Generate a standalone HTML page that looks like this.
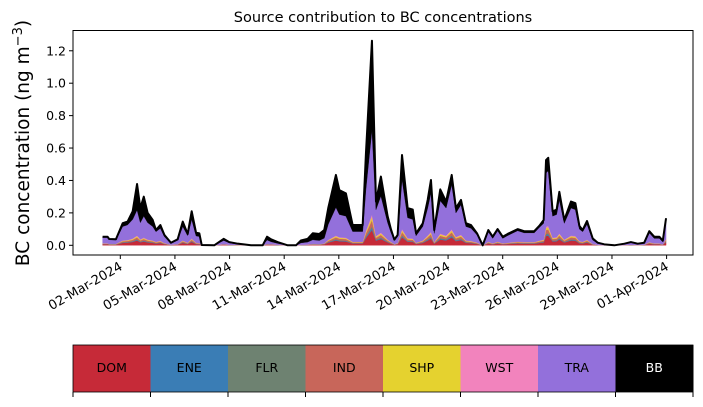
<!DOCTYPE html>
<html><head><meta charset="utf-8"><style>
body{margin:0;background:#fff;font-family:"Liberation Sans","DejaVu Sans",sans-serif;}
</style></head><body>
<svg id="chart" width="703" height="402" xmlns="http://www.w3.org/2000/svg" font-family="DejaVu Sans, Liberation Sans, sans-serif">
<text x="383" y="22" text-anchor="middle" font-size="14.5">Source contribution to BC concentrations</text>
<text transform="translate(29,143) rotate(-90)" text-anchor="middle" font-size="18.5">BC concentration (ng m<tspan baseline-shift="super" font-size="13">−3</tspan>)</text>
<g id="plot"></g>
<g id="cbar"></g>
</svg>
<script>
const days=[0.03,0.30,0.39,0.76,1.13,1.40,1.68,1.92,2.10,2.29,2.50,2.78,2.96,3.20,3.42,3.78,4.15,4.43,4.70,4.92,5.16,5.34,5.47,6.16,6.68,6.98,7.45,8.18,8.82,9.06,9.28,9.64,10.19,10.65,10.92,11.29,11.57,11.93,12.20,12.42,12.84,13.03,13.39,13.76,14.31,14.49,14.82,15.04,15.31,15.68,15.86,16.05,16.23,16.47,16.78,17.06,17.24,17.61,17.88,18.06,18.24,18.57,18.89,19.20,19.43,19.71,19.98,20.26,20.59,20.90,21.21,21.45,21.72,22.00,22.27,22.82,23.18,23.73,24.01,24.25,24.38,24.50,24.74,24.96,25.11,25.38,25.75,25.99,26.21,26.39,26.63,26.94,27.22,27.58,28.13,28.68,29.04,29.41,29.77,30.05,30.32,30.60,30.79,30.97];
const total=[0.053,0.053,0.039,0.037,0.136,0.146,0.21,0.378,0.23,0.30,0.20,0.156,0.094,0.125,0.064,0.016,0.037,0.146,0.07,0.21,0.078,0.074,0.002,0.0,0.04,0.02,0.01,0.0,0.0,0.053,0.037,0.02,0.0,0.0,0.03,0.04,0.074,0.07,0.094,0.23,0.434,0.34,0.32,0.125,0.125,0.568,1.262,0.27,0.424,0.18,0.10,0.035,0.064,0.557,0.23,0.22,0.074,0.136,0.28,0.403,0.094,0.345,0.27,0.434,0.23,0.28,0.136,0.125,0.074,0.0,0.094,0.053,0.10,0.053,0.07,0.10,0.087,0.087,0.12,0.156,0.526,0.54,0.21,0.22,0.33,0.156,0.27,0.26,0.12,0.094,0.15,0.043,0.016,0.006,0.0,0.01,0.02,0.01,0.016,0.087,0.053,0.053,0.028,0.167];
const bb=[0.005,0.005,0.004,0.004,0.02,0.02,0.05,0.16,0.09,0.12,0.06,0.04,0.01,0.02,0.01,0.003,0.005,0.03,0.01,0.05,0.02,0.02,0.001,0,0.01,0.005,0.003,0,0,0.02,0.015,0.008,0,0,0.015,0.02,0.04,0.04,0.05,0.10,0.20,0.15,0.14,0.04,0.04,0.22,0.55,0.05,0.12,0.04,0.02,0.005,0.01,0.15,0.06,0.06,0.015,0.02,0.05,0.08,0.02,0.07,0.04,0.06,0.03,0.03,0.02,0.02,0.01,0,0.01,0.01,0.01,0.01,0.01,0.01,0.01,0.01,0.01,0.02,0.08,0.08,0.03,0.03,0.05,0.02,0.04,0.04,0.02,0.01,0.02,0.01,0.004,0.002,0,0.002,0.003,0.002,0.003,0.01,0.01,0.01,0.005,0.02];
const local=[0.012,0.012,0.009,0.009,0.03,0.033,0.042,0.06,0.037,0.047,0.036,0.03,0.022,0.028,0.014,0.004,0.008,0.03,0.016,0.042,0.016,0.014,0.001,0,0.008,0.004,0.003,0,0,0.009,0.007,0.004,0,0,0.004,0.005,0.009,0.008,0.012,0.034,0.06,0.05,0.047,0.022,0.022,0.09,0.19,0.057,0.078,0.036,0.021,0.008,0.014,0.10,0.044,0.042,0.016,0.03,0.06,0.083,0.02,0.072,0.06,0.098,0.052,0.065,0.03,0.027,0.017,0,0.022,0.012,0.023,0.012,0.016,0.023,0.02,0.02,0.029,0.035,0.115,0.12,0.047,0.05,0.073,0.035,0.06,0.057,0.026,0.022,0.034,0.009,0.003,0.001,0,0.002,0.004,0.002,0.004,0.02,0.012,0.012,0.006,0.038];
const sources=["DOM","ENE","FLR","IND","SHP","WST","TRA","BB"];
const colors=["#c62a38","#3a7db5","#6e8271","#c8665a","#e5d22f","#f283bd","#9370db","#000000"];
const localShares=[0.5,0.07,0.05,0.2,0.11,0.07];
const yTicks=[0.0,0.2,0.4,0.6,0.8,1.0,1.2];
const xTickDays=[1,4,7,10,13,16,19,22,25,28,31];
const xTickLabels=["02-Mar-2024","05-Mar-2024","08-Mar-2024","11-Mar-2024","14-Mar-2024","17-Mar-2024","20-Mar-2024","23-Mar-2024","26-Mar-2024","29-Mar-2024","01-Apr-2024"];

const NS="http://www.w3.org/2000/svg";
const L=73,R=693,T=30.5,B=255;
const xs=d=>120.3+(d-1)*18.21;
const ys=v=>245.3-v*162.1;
const plot=document.getElementById('plot');
function mk(tag,attrs,parent){const e=document.createElementNS(NS,tag);for(const k in attrs)e.setAttribute(k,attrs[k]);parent.appendChild(e);return e;}

const n=days.length;
const layers=[];
for(let s=0;s<6;s++){layers.push(local.map(v=>v*localShares[s]));}
layers.push(total.map((t,i)=>Math.max(0,t-bb[i]-local[i])));
layers.push(bb.slice());
let base=new Array(n).fill(0);
layers.forEach((lay,s)=>{
  const top=base.map((b,i)=>b+lay[i]);
  let d="M"+days.map((dd,i)=>xs(dd).toFixed(2)+","+ys(top[i]).toFixed(2)).join("L");
  for(let i=n-1;i>=0;i--)d+="L"+xs(days[i]).toFixed(2)+","+ys(base[i]).toFixed(2);
  d+="Z";
  const p=mk('path',{d:d,fill:colors[s],stroke:colors[s],'stroke-width':0.4},plot);
  
  
  base=top;
});
const tl=mk('path',{d:"M"+days.map((dd,i)=>xs(dd).toFixed(2)+","+ys(total[i]).toFixed(2)).join("L"),fill:"none",stroke:"#000","stroke-width":2,"stroke-linejoin":"round"},plot);



const fr=mk('rect',{x:L,y:T,width:R-L,height:B-T,fill:"none",stroke:"#000","stroke-width":1},plot);



yTicks.forEach(v=>{
  const y=ys(v);
  const t=mk('line',{x1:L-4,x2:L,y1:y,y2:y,stroke:"#000"},plot);
  
  
  const tx=mk('text',{x:L-7,y:y+4.5,"text-anchor":"end","font-size":12.5},plot);
  tx.textContent=v.toFixed(1);
  
  
});
xTickDays.forEach((d,i)=>{
  const x=xs(d);
  const t=mk('line',{x1:x,x2:x,y1:B,y2:B+4,stroke:"#000"},plot);
  
  
  const tx=mk('text',{transform:`translate(${x+3},${B+14}) rotate(-30)`,"text-anchor":"end","font-size":13},plot);
  tx.textContent=xTickLabels[i];
  
  
});

const cb=document.getElementById('cbar');
const cT=345,cB=392,w=(R-L)/8;
sources.forEach((s,i)=>{
  const r=mk('rect',{x:L+i*w,y:cT,width:w+0.5,height:cB-cT,fill:colors[i]},cb);
  
  
  const tx=mk('text',{x:L+i*w+w/2,y:372,"text-anchor":"middle","font-size":12.5,fill:s==="BB"?"#fff":"#000"},cb);
  tx.textContent=s;
  
  
});
for(let i=0;i<=8;i++){
  const t=mk('line',{x1:L+i*w,x2:L+i*w,y1:cB,y2:cB+5,stroke:"#000"},cb);
  
  
}
const cf=mk('rect',{x:L,y:cT,width:R-L,height:cB-cT,fill:"none",stroke:"#000","stroke-width":0.8},cb);


</script>
</body></html>
